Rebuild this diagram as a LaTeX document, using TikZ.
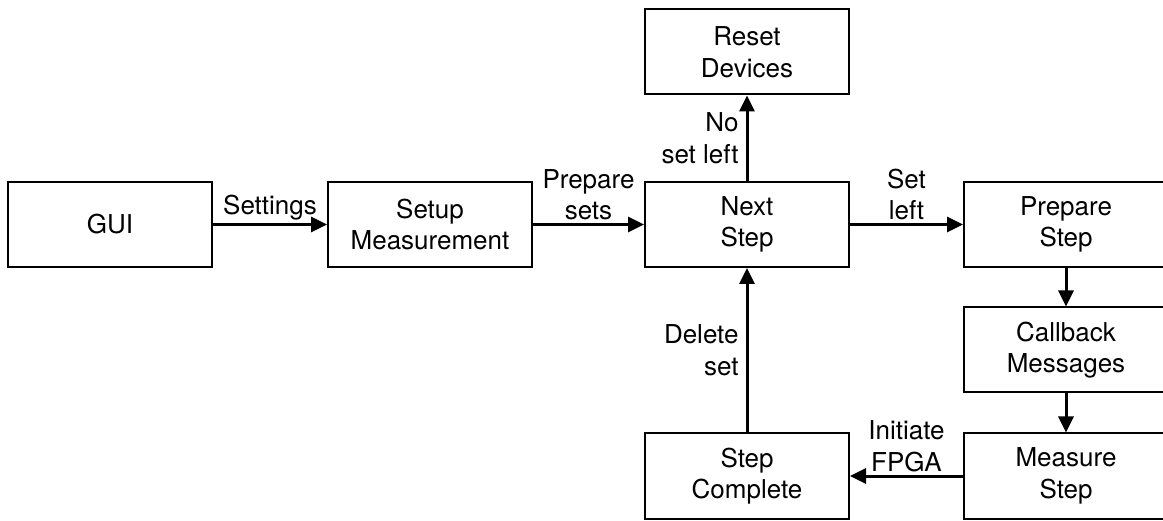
\documentclass[tikz,border=0pt]{standalone}
\usepackage{fontspec}
\setmainfont{TeX Gyre Heros}
\usetikzlibrary{arrows.meta}
\tikzset{
  box/.style={draw, line width=2pt, minimum width=204pt, minimum height=85pt,
    inner sep=0pt, align=center, font=\fontsize{26}{31.5}\selectfont},
  conn/.style={line width=3pt, -{Triangle[length=16pt,width=15pt]}},
  lbl/.style={align=center, inner sep=3pt, font=\fontsize{26}{31.5}\selectfont},
  lblr/.style={align=right, inner sep=7pt, font=\fontsize{26}{31.5}\selectfont}
}
\begin{document}
\begin{tikzpicture}[x=1pt, y=-1pt]
\useasboundingbox (0,0) rectangle (1163,521);
\clip (0,0) rectangle (1163,521);
\node[box] (gui) at (110,224.5) {GUI};
\node[box] (setup) at (430,224.5) {Setup\\Measurement};
\node[box] (next) at (747,224.5) {Next\\Step};
\node[box] (reset) at (747,52) {Reset\\Devices};
\node[box] (prep) at (1066,224.5) {Prepare\\Step};
\node[box] (callback) at (1066,350) {Callback\\Messages};
\node[box] (measure) at (1066,476) {Measure\\Step};
\node[box] (complete) at (747,476) {Step\\Complete};
\draw[conn] (gui) -- node[lbl, above] {Settings} (setup);
\draw[conn] (setup) -- node[lbl, above] {Prepare\\sets} (next);
\draw[conn] (next) -- node[lbl, above] {Set\\left} (prep);
\draw[conn] (next) -- node[lblr, left] {No\\set left} (reset);
\draw[conn] (prep) -- (callback);
\draw[conn] (callback) -- (measure);
\draw[conn] (measure) -- node[lbl, above] {Initiate\\FPGA} (complete);
\draw[conn] (complete) -- node[lblr, left] {Delete\\set} (next);
\end{tikzpicture}
\end{document}
